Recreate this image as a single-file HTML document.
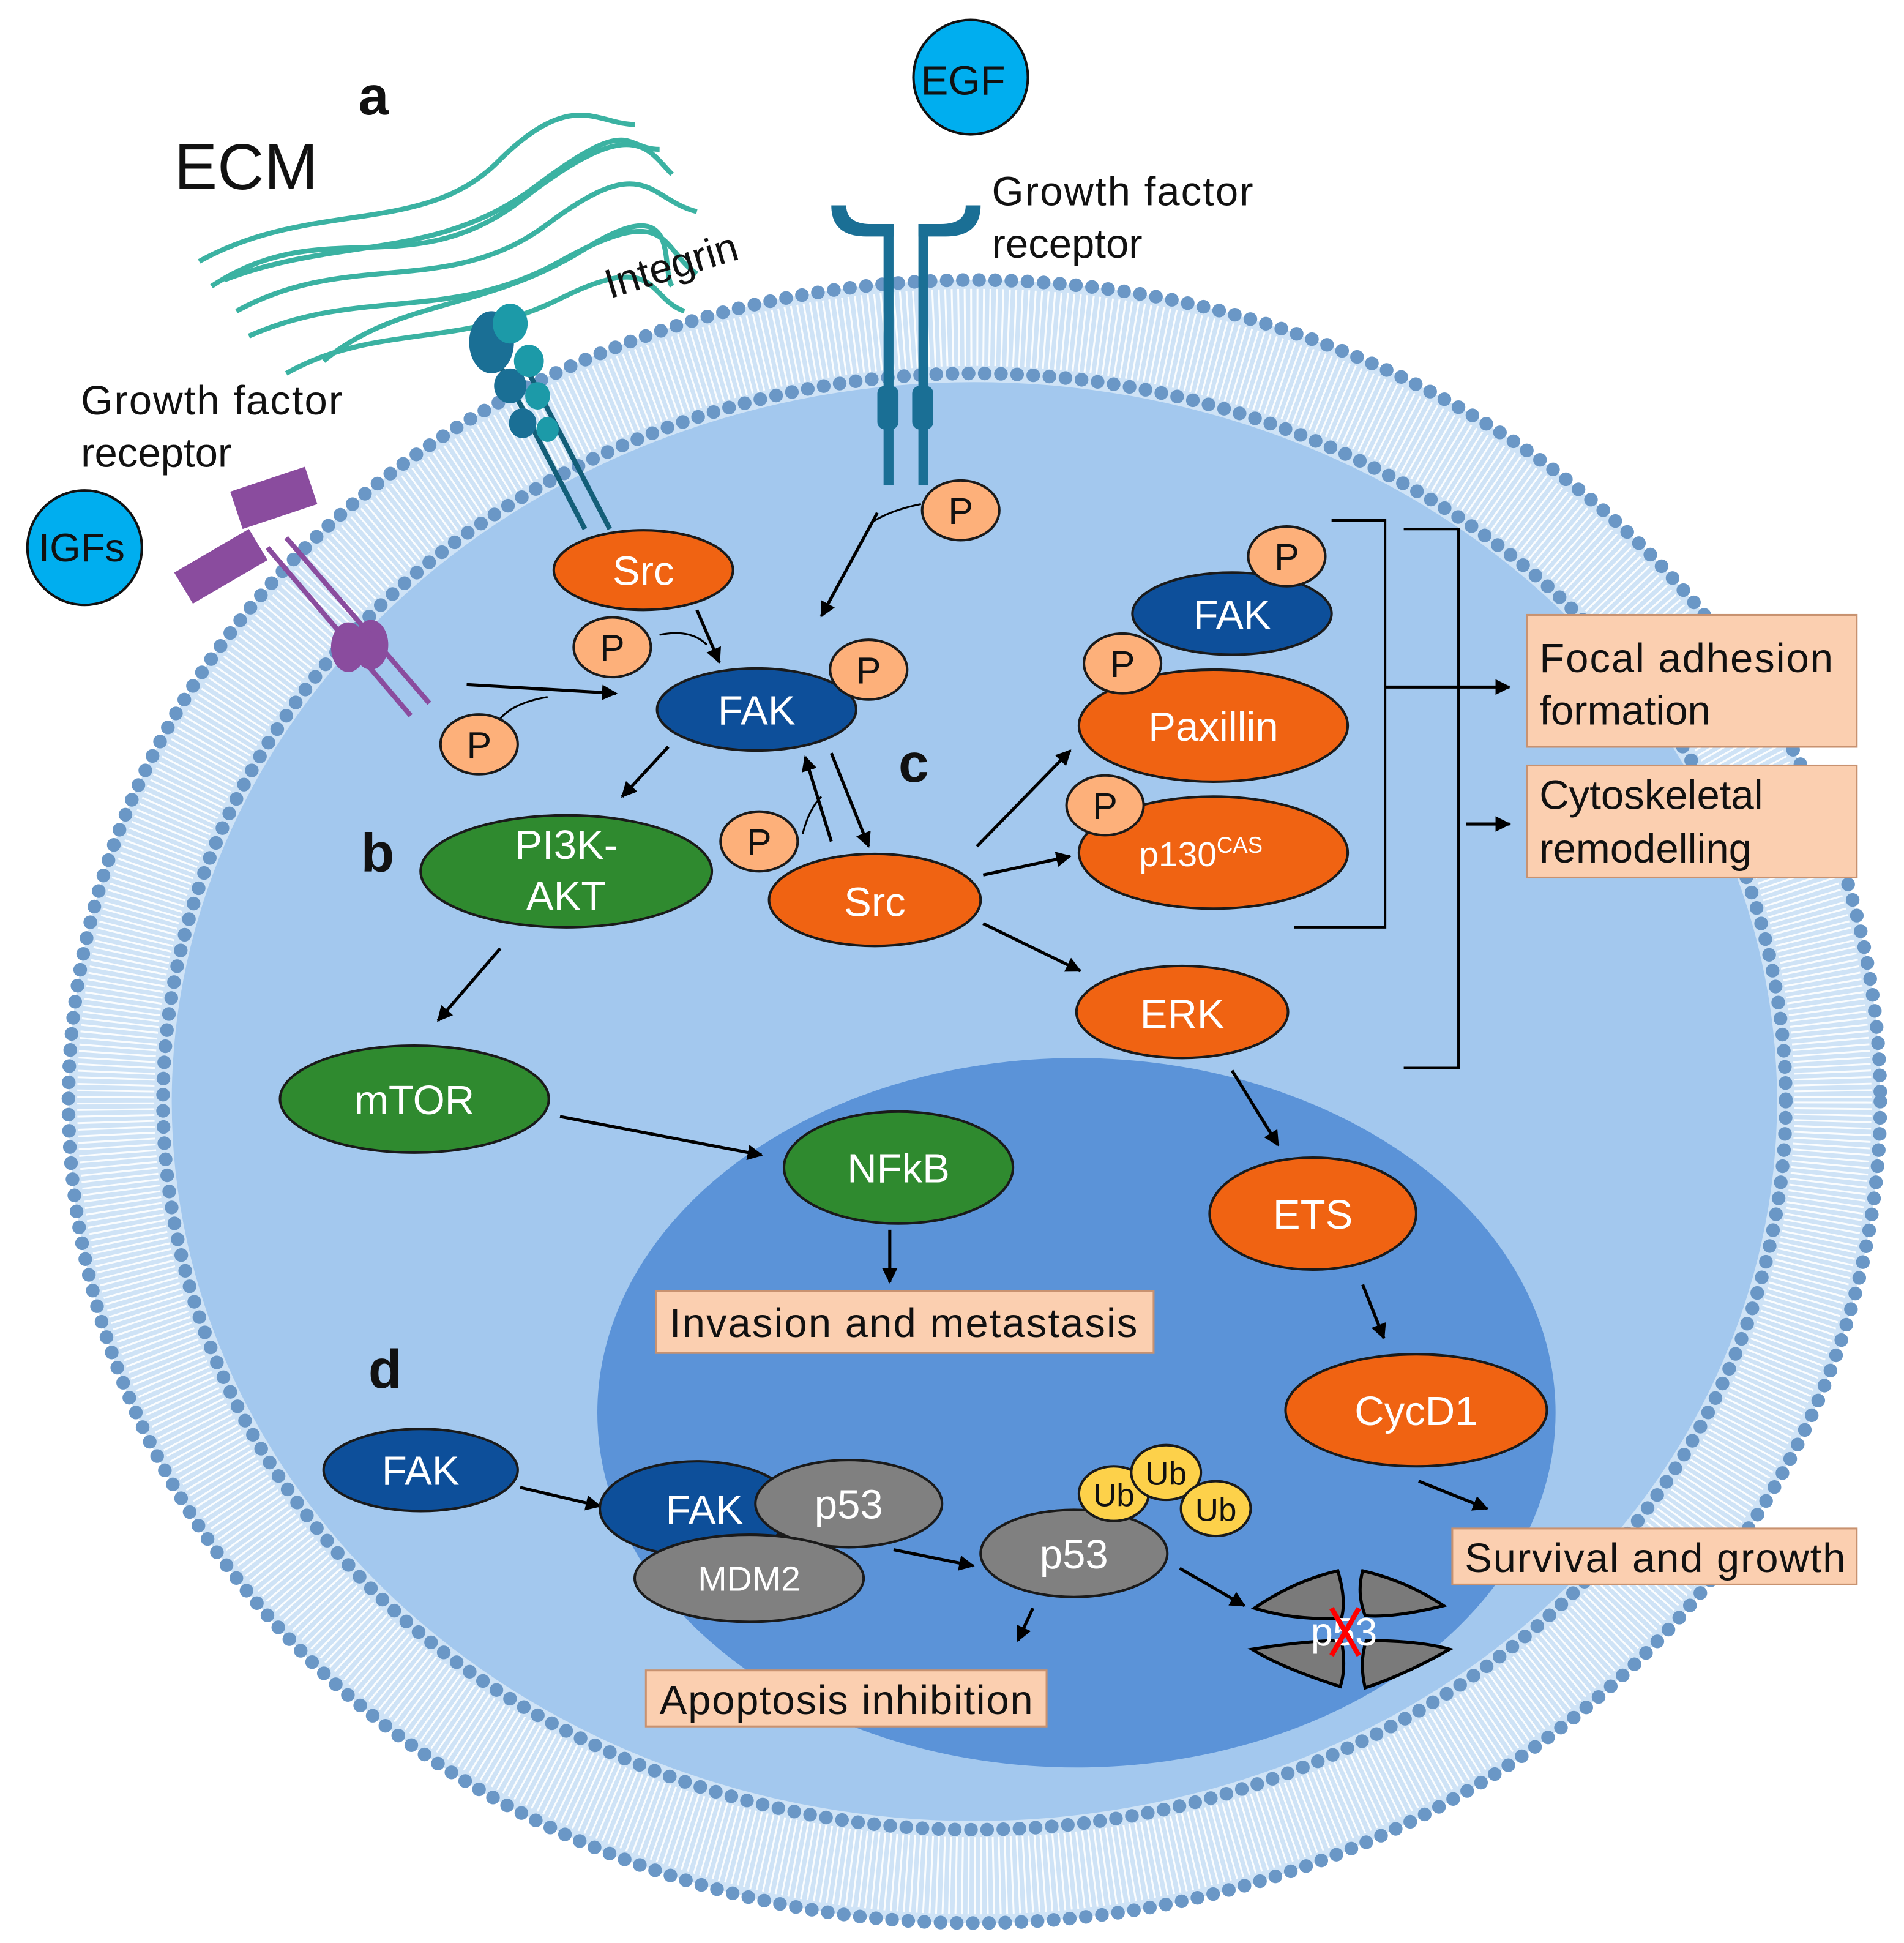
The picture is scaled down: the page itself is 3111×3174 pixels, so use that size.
<!DOCTYPE html>
<html><head><meta charset="utf-8"><style>
html,body{margin:0;padding:0;background:#fff}
svg{display:block}
text{font-family:"Liberation Sans",Arial,sans-serif}
</style></head><body>
<svg width="3111" height="3174" viewBox="0 0 1530 1561" preserveAspectRatio="none" xmlns="http://www.w3.org/2000/svg">
<defs>
<marker id="ah" viewBox="0 0 10 10" refX="9" refY="5" markerWidth="5" markerHeight="5" orient="auto"><path d="M0,0 L10,5 L0,10 z" fill="#000"/></marker>
</defs>
<rect width="1530" height="1561" fill="#fff"/>
<ellipse cx="783" cy="885" rx="728" ry="660" fill="#cfe3f6"/>
<ellipse cx="783" cy="885" rx="690" ry="622" fill="none" stroke="#fff" stroke-width="62" stroke-dasharray="1.5 3.5" opacity="0.9"/>
<ellipse cx="783" cy="885" rx="728" ry="660" fill="none" stroke="#6a97c6" stroke-width="11" stroke-dasharray="0 13" stroke-linecap="round"/>
<ellipse cx="783" cy="885" rx="652" ry="585" fill="none" stroke="#6a97c6" stroke-width="11" stroke-dasharray="0 13" stroke-linecap="round"/>
<ellipse cx="783" cy="885" rx="645" ry="578" fill="#a3c8ee"/>
<ellipse cx="865" cy="1135" rx="385" ry="285" fill="#5b93d8"/>

<g fill="none" stroke="#1aa592" stroke-width="4" opacity="0.85">
<path d="M170,230 C260,170 330,230 420,160 S520,120 540,140"/>
<path d="M190,250 C280,200 360,240 440,180 S520,160 560,170"/>
<path d="M160,210 C250,160 340,190 400,130 S480,100 510,100"/>
<path d="M200,270 C290,230 360,260 450,210 S530,200 560,220"/>
<path d="M230,300 C300,260 370,280 450,240 S520,240 550,250"/>
<path d="M180,225 C270,190 350,210 430,150 S500,120 530,120"/>
<path d="M260,290 C320,240 390,250 470,200 S530,215 540,230"/>
</g>
<g stroke="#135e78" stroke-width="4" fill="none"><line x1="400" y1="290" x2="470" y2="425"/><line x1="420" y1="290" x2="490" y2="425"/></g>
<g fill="#1a6f95"><ellipse cx="395" cy="275" rx="18" ry="25"/><ellipse cx="410" cy="310" rx="13" ry="14"/><ellipse cx="420" cy="340" rx="11" ry="12"/></g>
<g fill="#1c9aa8"><ellipse cx="410" cy="260" rx="14" ry="16"/><ellipse cx="425" cy="290" rx="12" ry="13"/><ellipse cx="432" cy="318" rx="10" ry="11"/><ellipse cx="440" cy="345" rx="9" ry="10"/></g>
<g fill="#1a6f95">
<rect x="710" y="180" width="8" height="210"/><rect x="738" y="180" width="8" height="210"/>
<path d="M668,165 h12 q0,15 20,15 h18 v10 h-22 q-28,0 -28,-25z"/>
<path d="M788,165 h-12 q0,15 -20,15 h-18 v10 h22 q28,0 28,-25z"/>
<rect x="705" y="310" width="17" height="35" rx="6"/><rect x="733" y="310" width="17" height="35" rx="6"/>
</g>
<g fill="#8a4c9e">
<path d="M140,460 l60,-35 l15,25 l-60,35z"/><path d="M185,395 l60,-20 l10,30 l-60,20z"/>
<ellipse cx="280" cy="520" rx="14" ry="20"/><ellipse cx="298" cy="518" rx="14" ry="20"/>
</g>
<g stroke="#8a4c9e" stroke-width="4"><line x1="215" y1="440" x2="330" y2="575"/><line x1="230" y1="432" x2="345" y2="565"/></g>

<g stroke="#000" stroke-width="2" fill="none">
<path d="M1070,418 H1113 V745 H1040"/>
<path d="M1128,425 H1172 V858 H1128"/>
</g>

<g stroke="#000" stroke-width="2.5" fill="none" marker-end="url(#ah)">
<line x1="1113" y1="552" x2="1213" y2="552"/>
<line x1="1178" y1="662" x2="1213" y2="662"/>
<line x1="705" y1="412" x2="660" y2="495"/>
<line x1="560" y1="490" x2="578" y2="532"/>
<line x1="375" y1="550" x2="495" y2="557"/>
<line x1="537" y1="600" x2="500" y2="640"/>
<line x1="668" y1="676" x2="647" y2="608"/>
<line x1="668" y1="605" x2="698" y2="680"/>
<line x1="785" y1="680" x2="860" y2="603"/>
<line x1="790" y1="703" x2="860" y2="688"/>
<line x1="790" y1="742" x2="868" y2="780"/>
<line x1="402" y1="762" x2="352" y2="820"/>
<line x1="450" y1="897" x2="612" y2="928"/>
<line x1="715" y1="988" x2="715" y2="1030"/>
<line x1="990" y1="860" x2="1027" y2="920"/>
<line x1="1095" y1="1032" x2="1112" y2="1075"/>
<line x1="1140" y1="1190" x2="1195" y2="1212"/>
<line x1="418" y1="1195" x2="482" y2="1210"/>
<line x1="718" y1="1245" x2="782" y2="1258"/>
<line x1="830" y1="1292" x2="818" y2="1318"/>
<line x1="948" y1="1260" x2="1000" y2="1290"/>
</g>
<g stroke="#000" stroke-width="1.5" fill="none">
<path d="M740,405 Q715,410 700,420"/><path d="M530,510 Q555,505 568,518"/><path d="M400,580 Q410,565 440,560"/><path d="M645,670 Q650,650 660,640"/>
</g>

<g stroke="#1a1a1a" stroke-width="2">
<g fill="#f06312">
<ellipse cx="517" cy="458" rx="72" ry="32"/>
<ellipse cx="703" cy="723" rx="85" ry="37"/>
<ellipse cx="975" cy="583" rx="108" ry="45"/>
<ellipse cx="975" cy="685" rx="108" ry="45"/>
<ellipse cx="950" cy="813" rx="85" ry="37"/>
<ellipse cx="1055" cy="975" rx="83" ry="45"/>
<ellipse cx="1138" cy="1133" rx="105" ry="45"/>
</g>
<g fill="#0d4f9a">
<ellipse cx="608" cy="570" rx="80" ry="33"/>
<ellipse cx="990" cy="493" rx="80" ry="33"/>
<ellipse cx="338" cy="1181" rx="78" ry="33"/>
<ellipse cx="560" cy="1212" rx="78" ry="38"/>
</g>
<g fill="#2f8a2f">
<ellipse cx="455" cy="700" rx="117" ry="45"/>
<ellipse cx="333" cy="883" rx="108" ry="43"/>
<ellipse cx="722" cy="938" rx="92" ry="45"/>
</g>
<g fill="#808080">
<ellipse cx="682" cy="1208" rx="75" ry="35"/>
<ellipse cx="602" cy="1268" rx="92" ry="35"/>
<ellipse cx="863" cy="1248" rx="75" ry="35"/>
</g>
<g fill="#fdb07a">
<ellipse cx="772" cy="410" rx="31" ry="24"/>
<ellipse cx="492" cy="520" rx="31" ry="24"/>
<ellipse cx="698" cy="538" rx="31" ry="24"/>
<ellipse cx="385" cy="598" rx="31" ry="24"/>
<ellipse cx="610" cy="676" rx="31" ry="24"/>
<ellipse cx="1034" cy="447" rx="31" ry="24"/>
<ellipse cx="902" cy="533" rx="31" ry="24"/>
<ellipse cx="888" cy="647" rx="31" ry="24"/>
</g>
<g fill="#fdd14a">
<ellipse cx="895" cy="1200" rx="28" ry="22"/>
<ellipse cx="937" cy="1183" rx="28" ry="22"/>
<ellipse cx="977" cy="1212" rx="28" ry="22"/>
</g>
<g fill="#00aeef" stroke="#111">
<circle cx="780" cy="62" r="46"/>
<circle cx="68" cy="440" r="46"/>
</g>
<g fill="#7a7a7a" stroke="#000" stroke-width="2.5">
<path d="M1008,1292 Q1040,1270 1075,1262 Q1082,1285 1078,1300 Q1040,1302 1008,1292z"/>
<path d="M1095,1262 Q1130,1270 1160,1290 Q1120,1300 1097,1298 Q1090,1280 1095,1262z"/>
<path d="M1006,1325 Q1050,1318 1078,1318 Q1082,1340 1077,1355 Q1030,1340 1006,1325z"/>
<path d="M1098,1318 Q1140,1318 1165,1325 Q1130,1345 1097,1356 Q1092,1335 1098,1318z"/>
</g>
</g>

<g fill="#fbcfb0" stroke="#c89270" stroke-width="1.5">
<rect x="1227" y="494" width="265" height="106"/>
<rect x="1227" y="615" width="265" height="90"/>
<rect x="527" y="1037" width="400" height="50"/>
<rect x="1167" y="1228" width="325" height="45"/>
<rect x="519" y="1342" width="322" height="45"/>
</g>

<g font-size="33" fill="#111">
<text x="797" y="165" textLength="210">Growth factor</text><text x="797" y="207">receptor</text>
<text x="65" y="333" textLength="210">Growth factor</text><text x="65" y="375">receptor</text>
<text x="490" y="240" transform="rotate(-17 490 240)">Integrin</text>
<text x="1237" y="540" textLength="236">Focal adhesion</text><text x="1237" y="582">formation</text>
<text x="1237" y="650">Cytoskeletal</text><text x="1237" y="693">remodelling</text>
<text x="538" y="1074" textLength="376">Invasion and metastasis</text>
<text x="1177" y="1263" textLength="306">Survival and growth</text>
<text x="530" y="1377" textLength="300">Apoptosis inhibition</text>
<text x="740" y="76" font-size="33">EGF</text>
<text x="31" y="451" font-size="32">IGFs</text>
</g>
<text x="140" y="152" font-size="52" fill="#111">ECM</text>
<g font-size="44" font-weight="bold" fill="#111">
<text x="288" y="92">a</text><text x="290" y="700">b</text><text x="722" y="628">c</text><text x="296" y="1115">d</text>
</g>
<g font-size="33" fill="#fff" text-anchor="middle">
<text x="517" y="470">Src</text>
<text x="608" y="582">FAK</text>
<text x="990" y="505">FAK</text>
<text x="455" y="690">PI3K-</text><text x="455" y="731">AKT</text>
<text x="703" y="736">Src</text>
<text x="975" y="595">Paxillin</text>
<text x="965" y="696" font-size="28">p130<tspan font-size="18" dy="-11">CAS</tspan></text>
<text x="950" y="826">ERK</text>
<text x="333" y="895">mTOR</text>
<text x="722" y="950">NFkB</text>
<text x="1055" y="987">ETS</text>
<text x="1138" y="1145">CycD1</text>
<text x="338" y="1193">FAK</text>
<text x="566" y="1224">FAK</text>
<text x="682" y="1220">p53</text>
<text x="602" y="1278" font-size="28">MDM2</text>
<text x="863" y="1260">p53</text>
<text x="1080" y="1322" font-size="32">p53</text>
</g>
<g font-size="30" fill="#111" text-anchor="middle">
<text x="772" y="421">P</text><text x="492" y="531">P</text><text x="698" y="549">P</text><text x="385" y="609">P</text><text x="610" y="687">P</text><text x="1034" y="458">P</text><text x="902" y="544">P</text><text x="888" y="658">P</text>
<text x="895" y="1210" font-size="26">Ub</text><text x="937" y="1193" font-size="26">Ub</text><text x="977" y="1222" font-size="26">Ub</text>
</g>
<g stroke="#ff0000" stroke-width="4"><line x1="1070" y1="1292" x2="1092" y2="1330"/><line x1="1092" y1="1292" x2="1070" y2="1330"/></g>
</svg>
</body></html>
